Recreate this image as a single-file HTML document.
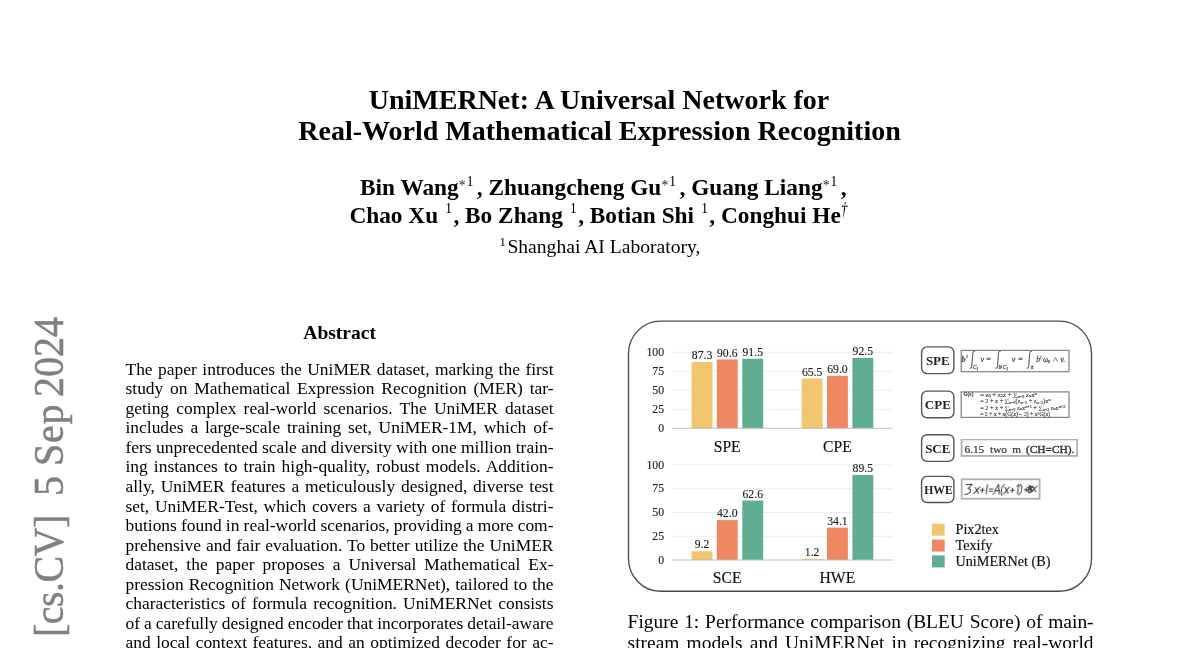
<!DOCTYPE html>
<html><head><meta charset="utf-8"><title>UniMERNet</title>
<style>
html,body{margin:0;padding:0;background:#fff}
body{width:1200px;height:648px;position:relative;overflow:hidden;font-family:"Liberation Serif",serif;color:#000}
.t{position:absolute;white-space:nowrap;line-height:1}
.c{left:0;width:1200px;text-align:center}
.title{font-size:28.03px;font-weight:bold;left:-0.5px}
.auth{font-size:23.3px;font-weight:bold}
.auth .s{font-weight:normal;font-size:14.2px;position:relative;top:-9.3px;margin-right:3.3px}
.auth .s2{font-weight:normal;font-size:14.2px;position:relative;top:-9.9px;margin-left:1.1px;margin-right:1.3px}
.auth .dg{font-weight:normal;font-style:italic;font-size:18px;position:relative;top:-8.4px;display:inline-block;transform:scaleX(0.72);transform-origin:0 50%;margin-left:0.6px;margin-right:-2.2px}
.auth .a{font-weight:normal;font-size:13.6px;position:relative;top:-5.7px;color:#1a1a1a;margin-left:0.2px;margin-right:0.8px}
.aff{font-size:19.62px}
.aff .s{font-size:12.6px;position:relative;top:-7.1px;margin-right:1.6px}
.abh{font-size:19.55px;font-weight:bold}
.ab{position:absolute;white-space:nowrap;line-height:1;font-size:17.45px}
.cp{position:absolute;white-space:nowrap;line-height:1;font-size:19.45px}
.wm{position:absolute;white-space:nowrap;line-height:1;font-size:40px;color:#808080;-webkit-text-stroke:0.5px #808080;transform-origin:0 0;transform:rotate(-90deg) scaleY(1.05)}
svg{position:absolute;left:0;top:0}
#pg{position:absolute;left:0;top:0;width:1200px;height:648px;will-change:transform;transform:translateZ(0)}
</style></head><body><div id="pg">
<div class="t c title" style="left:-1px;top:85.53px">UniMERNet: A Universal Network for</div>
<div class="t c title" style="top:116.73px">Real-World Mathematical Expression Recognition</div>
<div class="t c auth" style="left:3.3px;top:176.19px">Bin Wang<span class="a">*</span><span class="s">1</span>, Zhuangcheng Gu<span class="a">*</span><span class="s">1</span>, Guang Liang<span class="a">*</span><span class="s">1</span>,</div>
<div class="t c auth" style="left:-1.2px;top:204.39px">Chao Xu <span class="s2">1</span>, Bo Zhang <span class="s2">1</span>, Botian Shi <span class="s2">1</span>, Conghui He<span class="dg">†</span></div>
<div class="t c aff" style="top:237.17px"><span class="s">1</span>Shanghai AI Laboratory,</div>
<div class="t abh" style="left:303.3px;top:322.73px">Abstract</div>
<div class="ab" style="left:125.5px;top:360.79px;word-spacing:1.141px">The paper introduces the UniMER dataset, marking the first</div>
<div class="ab" style="left:125.5px;top:380.32px;word-spacing:2.461px">study on Mathematical Expression Recognition (MER) tar-</div>
<div class="ab" style="left:125.5px;top:399.85px;word-spacing:2.867px">geting complex real-world scenarios. The UniMER dataset</div>
<div class="ab" style="left:125.5px;top:419.38px;word-spacing:2.455px">includes a large-scale training set, UniMER-1M, which of-</div>
<div class="ab" style="left:125.5px;top:438.91px;word-spacing:-0.006px">fers unprecedented scale and diversity with one million train-</div>
<div class="ab" style="left:125.5px;top:458.44px;word-spacing:1.732px">ing instances to train high-quality, robust models. Addition-</div>
<div class="ab" style="left:125.5px;top:477.97px;word-spacing:1.464px">ally, UniMER features a meticulously designed, diverse test</div>
<div class="ab" style="left:125.5px;top:497.50px;word-spacing:1.354px">set, UniMER-Test, which covers a variety of formula distri-</div>
<div class="ab" style="left:125.5px;top:517.03px;word-spacing:-0.193px">butions found in real-world scenarios, providing a more com-</div>
<div class="ab" style="left:125.5px;top:536.56px;word-spacing:0.609px">prehensive and fair evaluation. To better utilize the UniMER</div>
<div class="ab" style="left:125.5px;top:556.09px;word-spacing:3.730px">dataset, the paper proposes a Universal Mathematical Ex-</div>
<div class="ab" style="left:125.5px;top:575.62px;word-spacing:0.708px">pression Recognition Network (UniMERNet), tailored to the</div>
<div class="ab" style="left:125.5px;top:595.15px;word-spacing:1.725px">characteristics of formula recognition. UniMERNet consists</div>
<div class="ab" style="left:125.5px;top:614.68px;word-spacing:-0.344px">of a carefully designed encoder that incorporates detail-aware</div>
<div class="ab" style="left:125.5px;top:634.21px;word-spacing:1.184px">and local context features, and an optimized decoder for ac-</div>
<div class="cp" style="left:627.6px;top:611.51px;word-spacing:0.949px">Figure 1: Performance comparison (BLEU Score) of main-</div>
<div class="cp" style="left:627.6px;top:633.01px;word-spacing:2.276px">stream models and UniMERNet in recognizing real-world</div>
<div class="wm" style="left:27.9px;top:637px;letter-spacing:-0.55px">[cs.CV]</div>
<div class="wm" style="left:27.9px;top:495.7px">5</div>
<div class="wm" style="left:27.9px;top:466px;letter-spacing:0.8px">Sep</div>
<div class="wm" style="left:27.9px;top:397.2px;letter-spacing:0px">2024</div>
<svg width="1200" height="648" viewBox="0 0 1200 648" font-family="Liberation Serif, serif">
<defs><filter id="b1" x="-5%" y="-20%" width="110%" height="140%"><feGaussianBlur stdDeviation="0.35"/></filter><filter id="b0" x="-2%" y="-2%" width="104%" height="104%"><feGaussianBlur stdDeviation="0.3"/></filter></defs>
<rect x="628.5" y="321.1" width="463.0" height="270.1" rx="32" ry="32.5" fill="none" stroke="#4a4a4a" stroke-width="1.35" filter="url(#b0)"/>
<line x1="672" x2="892.5" y1="409.30" y2="409.30" stroke="#ededed" stroke-width="1"/>
<line x1="672" x2="892.5" y1="390.30" y2="390.30" stroke="#ededed" stroke-width="1"/>
<line x1="672" x2="892.5" y1="371.30" y2="371.30" stroke="#ededed" stroke-width="1"/>
<line x1="672" x2="892.5" y1="352.30" y2="352.30" stroke="#ededed" stroke-width="1"/>
<text x="664.1" y="431.90" font-size="11.8" text-anchor="end" fill="#1a1a1a" stroke="#1a1a1a" stroke-width="0.12" filter="url(#b1)">0</text>
<text x="664.1" y="412.90" font-size="11.8" text-anchor="end" fill="#1a1a1a" stroke="#1a1a1a" stroke-width="0.12" filter="url(#b1)">25</text>
<text x="664.1" y="393.90" font-size="11.8" text-anchor="end" fill="#1a1a1a" stroke="#1a1a1a" stroke-width="0.12" filter="url(#b1)">50</text>
<text x="664.1" y="374.90" font-size="11.8" text-anchor="end" fill="#1a1a1a" stroke="#1a1a1a" stroke-width="0.12" filter="url(#b1)">75</text>
<text x="664.1" y="355.90" font-size="11.8" text-anchor="end" fill="#1a1a1a" stroke="#1a1a1a" stroke-width="0.12" filter="url(#b1)">100</text>
<rect x="691.6" y="361.95" width="20.9" height="66.35" fill="#F2C56F"/>
<text x="702.05" y="359.15" font-size="11.7" text-anchor="middle" fill="#1a1a1a" stroke="#1a1a1a" stroke-width="0.12" filter="url(#b1)">87.3</text>
<rect x="716.8" y="359.44" width="20.9" height="68.86" fill="#EE8862"/>
<text x="727.25" y="356.64" font-size="11.7" text-anchor="middle" fill="#1a1a1a" stroke="#1a1a1a" stroke-width="0.12" filter="url(#b1)">90.6</text>
<rect x="742.3" y="358.76" width="20.9" height="69.54" fill="#60AE92"/>
<text x="752.75" y="355.96" font-size="11.7" text-anchor="middle" fill="#1a1a1a" stroke="#1a1a1a" stroke-width="0.12" filter="url(#b1)">91.5</text>
<rect x="801.7" y="378.52" width="20.9" height="49.78" fill="#F2C56F"/>
<text x="812.15" y="375.72" font-size="11.7" text-anchor="middle" fill="#1a1a1a" stroke="#1a1a1a" stroke-width="0.12" filter="url(#b1)">65.5</text>
<rect x="827.0" y="375.86" width="20.9" height="52.44" fill="#EE8862"/>
<text x="837.45" y="373.06" font-size="11.7" text-anchor="middle" fill="#1a1a1a" stroke="#1a1a1a" stroke-width="0.12" filter="url(#b1)">69.0</text>
<rect x="852.4" y="358.00" width="20.9" height="70.30" fill="#60AE92"/>
<text x="862.85" y="355.20" font-size="11.7" text-anchor="middle" fill="#1a1a1a" stroke="#1a1a1a" stroke-width="0.12" filter="url(#b1)">92.5</text>
<line x1="672" x2="892.5" y1="428.3" y2="428.3" stroke="#bcbcbc" stroke-width="1.1"/>
<text x="727.2" y="451.8" font-size="15.7" text-anchor="middle" fill="#111" stroke="#111" stroke-width="0.15" filter="url(#b1)">SPE</text>
<text x="837.4" y="451.8" font-size="15.7" text-anchor="middle" fill="#111" stroke="#111" stroke-width="0.15" filter="url(#b1)">CPE</text>
<line x1="672" x2="892.5" y1="536.25" y2="536.25" stroke="#ededed" stroke-width="1"/>
<line x1="672" x2="892.5" y1="512.50" y2="512.50" stroke="#ededed" stroke-width="1"/>
<line x1="672" x2="892.5" y1="488.75" y2="488.75" stroke="#ededed" stroke-width="1"/>
<line x1="672" x2="892.5" y1="465.00" y2="465.00" stroke="#ededed" stroke-width="1"/>
<text x="664.1" y="563.60" font-size="11.8" text-anchor="end" fill="#1a1a1a" stroke="#1a1a1a" stroke-width="0.12" filter="url(#b1)">0</text>
<text x="664.1" y="539.85" font-size="11.8" text-anchor="end" fill="#1a1a1a" stroke="#1a1a1a" stroke-width="0.12" filter="url(#b1)">25</text>
<text x="664.1" y="516.10" font-size="11.8" text-anchor="end" fill="#1a1a1a" stroke="#1a1a1a" stroke-width="0.12" filter="url(#b1)">50</text>
<text x="664.1" y="492.35" font-size="11.8" text-anchor="end" fill="#1a1a1a" stroke="#1a1a1a" stroke-width="0.12" filter="url(#b1)">75</text>
<text x="664.1" y="468.60" font-size="11.8" text-anchor="end" fill="#1a1a1a" stroke="#1a1a1a" stroke-width="0.12" filter="url(#b1)">100</text>
<rect x="691.6" y="551.26" width="20.9" height="8.74" fill="#F2C56F"/>
<text x="702.05" y="548.46" font-size="11.7" text-anchor="middle" fill="#1a1a1a" stroke="#1a1a1a" stroke-width="0.12" filter="url(#b1)">9.2</text>
<rect x="716.8" y="520.10" width="20.9" height="39.90" fill="#EE8862"/>
<text x="727.25" y="517.30" font-size="11.7" text-anchor="middle" fill="#1a1a1a" stroke="#1a1a1a" stroke-width="0.12" filter="url(#b1)">42.0</text>
<rect x="742.3" y="500.53" width="20.9" height="59.47" fill="#60AE92"/>
<text x="752.75" y="497.73" font-size="11.7" text-anchor="middle" fill="#1a1a1a" stroke="#1a1a1a" stroke-width="0.12" filter="url(#b1)">62.6</text>
<rect x="801.7" y="558.86" width="20.9" height="1.14" fill="#F2C56F"/>
<text x="812.15" y="556.06" font-size="11.7" text-anchor="middle" fill="#1a1a1a" stroke="#1a1a1a" stroke-width="0.12" filter="url(#b1)">1.2</text>
<rect x="827.0" y="527.61" width="20.9" height="32.40" fill="#EE8862"/>
<text x="837.45" y="524.81" font-size="11.7" text-anchor="middle" fill="#1a1a1a" stroke="#1a1a1a" stroke-width="0.12" filter="url(#b1)">34.1</text>
<rect x="852.4" y="474.98" width="20.9" height="85.02" fill="#60AE92"/>
<text x="862.85" y="472.18" font-size="11.7" text-anchor="middle" fill="#1a1a1a" stroke="#1a1a1a" stroke-width="0.12" filter="url(#b1)">89.5</text>
<line x1="672" x2="892.5" y1="560.0" y2="560.0" stroke="#bcbcbc" stroke-width="1.1"/>
<text x="727.2" y="582.9" font-size="15.7" text-anchor="middle" fill="#111" stroke="#111" stroke-width="0.15" filter="url(#b1)">SCE</text>
<text x="837.4" y="582.9" font-size="15.7" text-anchor="middle" fill="#111" stroke="#111" stroke-width="0.15" filter="url(#b1)">HWE</text>
<rect x="921.6" y="346.9" width="32.3" height="26.7" rx="5.5" ry="5.5" fill="#fff" stroke="#555" stroke-width="1.4" filter="url(#b0)"/>
<text x="937.8" y="365.4" font-size="13" font-weight="bold" text-anchor="middle" fill="#222" filter="url(#b1)">SPE</text>
<rect x="921.6" y="391.1" width="32.3" height="26.7" rx="5.5" ry="5.5" fill="#fff" stroke="#555" stroke-width="1.4" filter="url(#b0)"/>
<text x="937.8" y="408.7" font-size="13" font-weight="bold" text-anchor="middle" fill="#222" filter="url(#b1)">CPE</text>
<rect x="921.6" y="434.7" width="32.3" height="26.7" rx="5.5" ry="5.5" fill="#fff" stroke="#555" stroke-width="1.4" filter="url(#b0)"/>
<text x="937.8" y="452.8" font-size="13" font-weight="bold" text-anchor="middle" fill="#222" filter="url(#b1)">SCE</text>
<rect x="921.6" y="476.4" width="32.3" height="26.1" rx="5.5" ry="5.5" fill="#fff" stroke="#555" stroke-width="1.4" filter="url(#b0)"/>
<text x="938.5" y="493.7" font-size="11.6" font-weight="bold" text-anchor="middle" fill="#222" filter="url(#b1)">HWE</text>
<rect x="961.2" y="350.4" width="107.8" height="21.3" fill="#fff" stroke="#858585" stroke-width="1.25" filter="url(#b0)"/>
<rect x="961.2" y="391.9" width="107.8" height="25.5" fill="#fff" stroke="#858585" stroke-width="1.25" filter="url(#b0)"/>
<rect x="961.6" y="439.4" width="115.5" height="16.5" fill="#fff" stroke="#b2b2b2" stroke-width="1.8" filter="url(#b0)"/>
<rect x="961.7" y="479.3" width="77.9" height="19.4" fill="#fff" stroke="#b0b0b0" stroke-width="1.8" filter="url(#b0)"/>
<g fill="#5c5c5c" stroke="#5c5c5c" stroke-width="0.3" font-style="italic" font-size="8" filter="url(#b1)">
<path d="M974.9,351.6 c-1.1,-0.7 -1.9,0.2 -2.1,1.9 l-1.0,12.6 c-0.2,1.7 -0.9,2.5 -2.0,1.8" fill="none" stroke="#666" stroke-width="1.15"/>
<path d="M1000.6,351.6 c-1.1,-0.7 -1.9,0.2 -2.1,1.9 l-1.0,12.6 c-0.2,1.7 -0.9,2.5 -2.0,1.8" fill="none" stroke="#666" stroke-width="1.15"/>
<path d="M1031.8,351.6 c-1.1,-0.7 -1.9,0.2 -2.1,1.9 l-1.0,12.6 c-0.2,1.7 -0.9,2.5 -2.0,1.8" fill="none" stroke="#666" stroke-width="1.15"/>
<text x="961.6" y="361.6" font-size="8.2" font-weight="bold" fill="#555">b</text>
<text x="966.2" y="358.2" font-size="5" >l</text>
<text x="973.0" y="369.4" font-size="5.2">C<tspan font-size="3.6" dy="0.8">1</tspan></text>
<text x="980.4" y="361.8">v</text>
<text x="986.3" y="362.2" font-style="normal" font-size="8">=</text>
<text x="998.6" y="369.2" font-size="5.4">b<tspan font-size="3.4" dy="-1.6">l</tspan><tspan dy="1.6" dx="0.6">C</tspan><tspan font-size="3.6" dy="0.8">1</tspan></text>
<text x="1011.8" y="361.8">v</text>
<text x="1018.2" y="362.2" font-style="normal" font-size="8">=</text>
<text x="1030.8" y="368.9" font-size="5.6">π</text>
<text x="1036.3" y="361.8" font-size="7.8">b<tspan font-size="4.4" dy="-3">l</tspan></text>
<text x="1043.0" y="361.8" font-size="7.2">ω<tspan font-size="4.2" dy="1.2">0</tspan></text>
<path d="M1053.2,361.7 L1055.4,357.6 L1057.6,361.7" fill="none" stroke="#6b6b6b" stroke-width="0.8"/>
<text x="1060.2" y="361.8">v.</text>
</g>
<g fill="#505050" stroke="#505050" stroke-width="0.18" font-size="5.3" filter="url(#b1)">
<text x="963.4" y="396.3" font-size="5.4" font-weight="bold" textLength="10" lengthAdjust="spacingAndGlyphs">G(x)</text>
<text x="980.2" y="396.5" textLength="56.6" lengthAdjust="spacingAndGlyphs">= z<tspan font-size="3.6" dy="0.8">0</tspan><tspan dy="-0.8"> + z</tspan><tspan font-size="3.6" dy="0.8">1</tspan><tspan dy="-0.8">x + ∑</tspan><tspan font-size="3.4" dy="1">n=2</tspan><tspan dy="-1"> z</tspan><tspan font-size="3.6" dy="0.8">n</tspan><tspan dy="-0.8">x</tspan><tspan font-size="3.6" dy="-1.8">n</tspan></text>
<text x="980.2" y="402.9" textLength="70.4" lengthAdjust="spacingAndGlyphs">= 2 + x + ∑<tspan font-size="3.4" dy="1">n=2</tspan><tspan dy="-1">(z</tspan><tspan font-size="3.6" dy="0.8">n−1</tspan><tspan dy="-0.8"> + z</tspan><tspan font-size="3.6" dy="0.8">n−2</tspan><tspan dy="-0.8">)x</tspan><tspan font-size="3.6" dy="-1.8">n</tspan></text>
<text x="980.2" y="409.6" textLength="85.2" lengthAdjust="spacingAndGlyphs">= 2 + x + ∑<tspan font-size="3.4" dy="1">n=2</tspan><tspan dy="-1"> z</tspan><tspan font-size="3.6" dy="0.8">n</tspan><tspan dy="-0.8">x</tspan><tspan font-size="3.6" dy="-1.8">n+1</tspan><tspan dy="1.8"> + ∑</tspan><tspan font-size="3.4" dy="1">n=2</tspan><tspan dy="-1"> z</tspan><tspan font-size="3.6" dy="0.8">n</tspan><tspan dy="-0.8">x</tspan><tspan font-size="3.6" dy="-1.8">n+2</tspan></text>
<text x="980.2" y="416.4" textLength="70" lengthAdjust="spacingAndGlyphs">= 2 + x + x(G(x) − 2) + x<tspan font-size="3.6" dy="-1.8">2</tspan><tspan dy="1.8">G(x)</tspan></text>
</g>
<g font-size="11.3" fill="#333" stroke="#333" stroke-width="0.2" filter="url(#b1)">
<text x="964.5" y="453">6.15</text><text x="990.0" y="453">two</text><text x="1012.2" y="453">m</text><text x="1026.0" y="453" textLength="48.4" lengthAdjust="spacingAndGlyphs" stroke-width="0.4">(CH=CH).</text>
</g>
<path d="M965,484.7 L971.2,484.3 L968,488.6 C971.6,488.5 972.2,493.6 965.4,494.5 M975,487.4 L979,493.2 M979.5,487 L974.6,493.5 M980.5,490.2 L984.3,490.2 M982.4,488.1 L982.4,492.4 M986.7,484.8 L986.7,493.9 M989.4,488.9 L992.6,488.9 M989.4,491.1 L992.6,491.1 M993.8,494.4 L997.6,484.3 L1000,494.3 M995,490.7 L999.7,490.5 M1003.2,484.6 C1000.9,488 1001,491.8 1002.8,495.2 M1004.6,487.4 L1008.6,493.2 M1009.1,487 L1004.4,493.5 M1010.6,490.2 L1014.4,490.2 M1012.5,488.1 L1012.5,492.4 M1016.5,486.1 L1018,484.7 L1018,493.9 M1019.5,484.4 C1022.5,487.6 1022.3,491.7 1019.7,494.7 M1024.4,489.6 L1027.8,489.6 M1026.1,487.7 L1026.1,491.6 M1028.7,485.6 L1028.7,492.5 M1028.7,485.8 C1032.2,485.5 1032.2,488.8 1028.9,489 C1032.8,489 1032.6,492.5 1028.7,492.5 M1027.6,487.4 L1033,490.6 M1027.8,490.8 L1032.6,487 M1029.6,486.4 L1031.4,492 M1032.4,486.3 L1036.1,491.8 M1036.5,485.9 L1031.9,492.1" fill="none" stroke="#3c3c3c" stroke-width="1.05" stroke-linecap="round" stroke-linejoin="round" filter="url(#b1)" transform="translate(1000,490) skewX(-9) translate(-1000,-490)"/>
<rect x="932" y="523.70" width="12.7" height="12" fill="#F2C56F"/>
<text x="955.5" y="534.30" font-size="14.2" fill="#111" stroke="#111" stroke-width="0.15" filter="url(#b1)">Pix2tex</text>
<rect x="932" y="539.55" width="12.7" height="12" fill="#EE8862"/>
<text x="955.5" y="550.10" font-size="14.2" fill="#111" stroke="#111" stroke-width="0.15" filter="url(#b1)">Texify</text>
<rect x="932" y="555.40" width="12.7" height="12" fill="#60AE92"/>
<text x="955.5" y="565.90" font-size="14.2" fill="#111" stroke="#111" stroke-width="0.15" filter="url(#b1)">UniMERNet (B)</text>
</svg>
</div></body></html>
